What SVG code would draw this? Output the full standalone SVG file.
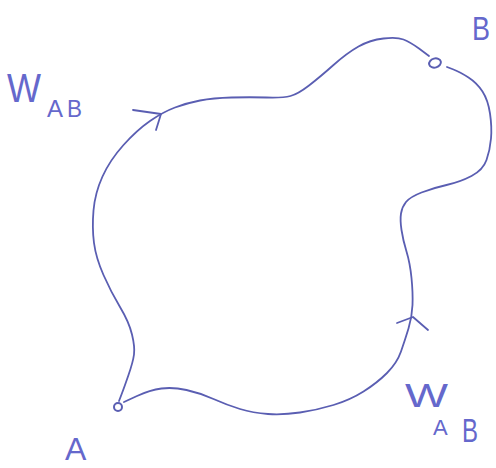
<svg xmlns="http://www.w3.org/2000/svg" width="496" height="468" viewBox="0 0 496 468">
<style>
.path{fill:none;stroke:#5a5eb2;stroke-width:1.8;stroke-linecap:round;stroke-linejoin:round}
.pt{fill:none;stroke:#5a5eb2;stroke-width:2}
.lbl{font-family:"Liberation Sans",Arial,sans-serif;fill:#6568cc}
</style>
<rect width="496" height="468" fill="#ffffff"/>
<g id="connectors">
<path id="path-left" class="path" d="M119,401 L121.5,394.5 Q124,388 128.5,375 Q133,362 134,354.5 Q135,347 132,334.5 Q129,322 120,307 Q111,292 103.5,275 Q96,258 94,243 Q92,228 93.5,210.5 Q95,193 102.5,176.5 Q110,160 123.5,145 Q137,130 150,121 Q163,112 175,107.5 Q187,103 200,100.5 Q213,98 231.5,97.5 Q250,97 266.5,97.5 Q283,98 290.5,96 Q298,94 309,85.5 Q320,77 333.5,65 Q347,53 358.5,46.5 Q370,40 383.5,38.5 Q397,37 403.5,39.5 Q410,42 419,48.5 L429,56"/>
<path class="path" d="M133,110 L161,114 L156,130"/>
<path id="path-right" class="path" d="M124,402 L137,396 Q150,390 161.5,388.5 Q173,387 186.5,390 Q200,393 213.5,399 Q227,405 240,409 Q253,413 268,414 Q283,415 300,412.5 Q317,410 333.5,405 Q350,400 363.5,391.5 Q377,383 387,373 Q397,363 401,351.5 Q405,340 408.5,328.5 Q412,317 412.5,305 Q413,293 411.5,278 Q410,263 406.5,251.5 Q403,240 401.5,230 Q400,220 401,213.5 Q402,207 406,202 Q410,197 421.5,192.5 Q433,188 446.5,185 Q460,182 471.5,176 Q483,170 486.5,160 Q490,150 491,138.5 Q492,127 490,113.5 Q488,100 482.5,91.5 Q477,83 468.5,77.5 Q460,72 453.5,69.5 L447,67"/>
<path class="path" d="M397,323 L413,317 L428,330"/>
<g id="label-left">
<text class="lbl" x="7" y="102" font-size="40" textLength="34" lengthAdjust="spacingAndGlyphs">W</text>
<text class="lbl" x="47" y="117" font-size="24">A</text>
<text class="lbl" x="67" y="117" font-size="24" textLength="15" lengthAdjust="spacingAndGlyphs">B</text>
</g>
<g id="label-right">
<text class="lbl" x="405" y="407" font-size="34" textLength="43" lengthAdjust="spacingAndGlyphs">W</text>
<text class="lbl" x="433" y="435" font-size="22">A</text>
<text class="lbl" x="462" y="442" font-size="34" textLength="16" lengthAdjust="spacingAndGlyphs">B</text>
</g>
</g>
<g id="node-A">
<circle class="pt" cx="118" cy="407" r="4"/>
<text class="lbl" x="65" y="460" font-size="32">A</text>
</g>
<g id="node-B">
<ellipse class="pt" cx="435" cy="63" rx="6" ry="4.5" transform="rotate(-15 435 63)"/>
<text class="lbl" x="472" y="40" font-size="34" textLength="18" lengthAdjust="spacingAndGlyphs">B</text>
</g>
</svg>
